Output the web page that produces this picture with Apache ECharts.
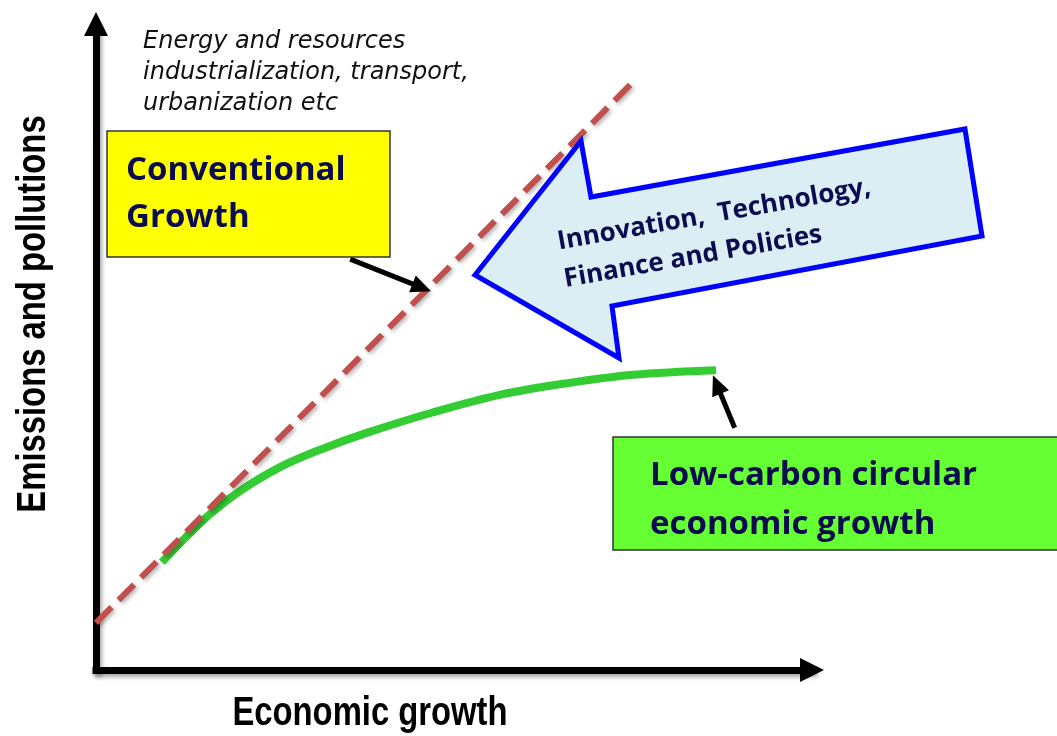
<!DOCTYPE html>
<html>
<head>
<meta charset="utf-8">
<title>Conventional vs low-carbon growth</title>
<script src="https://cdn.jsdelivr.net/npm/echarts@6/dist/echarts.min.js"></script>
<style>
  html, body { margin: 0; padding: 0; background: #fff; }
  #main { width: 1057px; height: 736px; }
</style>
</head>
<body>
<div id="main"></div>
<script>
// x = economic growth, y = emissions, both on a 0-100 concept scale
var conventionalX = [0, 74.9];
var conventionalY = [7.3, 90.9];

var lowCarbonX = [9.2, 12.4, 15.9, 20.1, 25.7, 31.3, 37.8, 47.1, 56.4, 65.8, 75.0, 86.6];
var lowCarbonY = [16.7, 20.4, 24.1, 27.7, 31.4, 34.1, 36.7, 39.9, 42.6, 44.4, 45.7, 46.4];

// callout arrows, [from, to] in chart units
var pointerConventional = [[35.5, 63.6], [45.5, 59.2]];
var pointerLowCarbon = [[89.2, 37.5], [86.7, 44.2]];

var axisNames = ['Economic growth', 'Emissions and pollutions'];
var noteLines = ['Energy and resources', 'industrialization, transport,', 'urbanization etc'];
var conventionalLabel = ['Conventional', 'Growth'];
var lowCarbonLabel = ['Low-carbon circular', 'economic growth'];
var arrowLabel = ['Innovation,  Technology,', 'Finance and Policies'];

function zip(xs, ys) {
  return xs.map(function (x, i) { return [x, ys[i]]; });
}

var myChart = echarts.init(document.getElementById('main'));

var axisLineStyle = {
  color: '#000',
  width: 7,
  cap: 'square',
  shadowColor: 'rgba(0,0,0,0.35)',
  shadowBlur: 4,
  shadowOffsetX: 2,
  shadowOffsetY: 3
};
var boxFont = '"Open Sans", "Noto Sans", sans-serif';
var titleFont = '"Liberation Sans", Arial, sans-serif'; // squeezed below to look like Arial Narrow
var navy = '#0b0b50';

var option = {
  animation: false,
  backgroundColor: '#fff',
  grid: { left: 96, right: 245, top: 24, bottom: 66 },
  xAxis: {
    type: 'value', min: 0, max: 100,
    axisLine: { show: true, onZero: false, symbol: ['none', 'triangle'], symbolSize: [24, 24], lineStyle: axisLineStyle },
    axisTick: { show: false }, axisLabel: { show: false }, splitLine: { show: false }
  },
  yAxis: {
    type: 'value', min: 0, max: 100,
    axisLine: { show: true, onZero: false, symbol: ['none', 'triangle'], symbolSize: [24, 24], lineStyle: axisLineStyle },
    axisTick: { show: false }, axisLabel: { show: false }, splitLine: { show: false }
  },
  series: [
    {
      name: 'Low-carbon',
      type: 'line',
      smooth: 0.35,
      showSymbol: false,
      silent: true,
      z: 2,
      lineStyle: { color: '#33cc33', width: 8 },
      data: zip(lowCarbonX, lowCarbonY),
      markLine: {
        silent: true,
        symbol: ['none', 'triangle'],
        symbolSize: [18, 20],
        label: { show: false },
        lineStyle: { color: '#000', width: 5, type: 'solid' },
        data: [
          [{ coord: pointerConventional[0] }, { coord: pointerConventional[1] }],
          [{ coord: pointerLowCarbon[0] }, { coord: pointerLowCarbon[1] }]
        ]
      }
    },
    {
      name: 'Conventional',
      type: 'line',
      showSymbol: false,
      silent: true,
      z: 3,
      lineStyle: {
        color: '#c0504d', width: 6, type: [22, 10],
        shadowColor: 'rgba(0,0,0,0.3)', shadowBlur: 4, shadowOffsetX: 2, shadowOffsetY: 2
      },
      data: zip(conventionalX, conventionalY)
    }
  ],
  graphic: [
    {
      type: 'text', x: 143, y: 73,
      style: {
        text: noteLines.join('\n'), fill: '#111', align: 'left', verticalAlign: 'middle',
        font: 'italic 24px "DejaVu Sans", sans-serif', lineHeight: 31
      }
    },
    {
      type: 'rect', z: 10,
      shape: { x: 107, y: 131, width: 283, height: 126 },
      style: { fill: '#ffff00', stroke: '#333', lineWidth: 1.5 }
    },
    {
      type: 'text', z: 11, x: 126, y: 194,
      style: {
        text: conventionalLabel.join('\n'), fill: navy, align: 'left', verticalAlign: 'middle',
        font: 'bold 33px ' + boxFont, lineHeight: 47
      }
    },
    {
      type: 'polygon', z: 10,
      shape: { points: [[475, 275], [581, 141], [591, 197], [965, 129], [982, 236], [612, 306], [619, 358]] },
      style: { fill: '#daeef3', stroke: '#0000ff', lineWidth: 5, lineJoin: 'miter' }
    },
    {
      type: 'text', z: 11, x: 561, y: 261, rotation: 10 * Math.PI / 180,
      style: {
        text: arrowLabel.join('\n'), fill: navy, align: 'left', verticalAlign: 'middle',
        font: 'bold 26px ' + boxFont, lineHeight: 38
      }
    },
    {
      type: 'rect', z: 10,
      shape: { x: 613, y: 437, width: 460, height: 113 },
      style: { fill: '#66ff33', stroke: '#333', lineWidth: 1.5 }
    },
    {
      type: 'text', z: 11, x: 650, y: 500,
      style: {
        text: lowCarbonLabel.join('\n'), fill: navy, align: 'left', verticalAlign: 'middle',
        font: 'bold 33px ' + boxFont, lineHeight: 49
      }
    },
    {
      type: 'text', x: 370, y: 714, scaleX: 0.82,
      style: {
        text: axisNames[0], fill: '#000', align: 'center', verticalAlign: 'middle',
        font: 'bold 40px ' + titleFont
      }
    },
    {
      type: 'text', x: 34, y: 314, rotation: Math.PI / 2, scaleX: 0.82,
      style: {
        text: axisNames[1], fill: '#000', align: 'center', verticalAlign: 'middle',
        font: 'bold 40px ' + titleFont
      }
    }
  ]
};

option && myChart.setOption(option);
window.addEventListener('resize', function () {
  myChart.resize();
});
</script>
</body>
</html>
